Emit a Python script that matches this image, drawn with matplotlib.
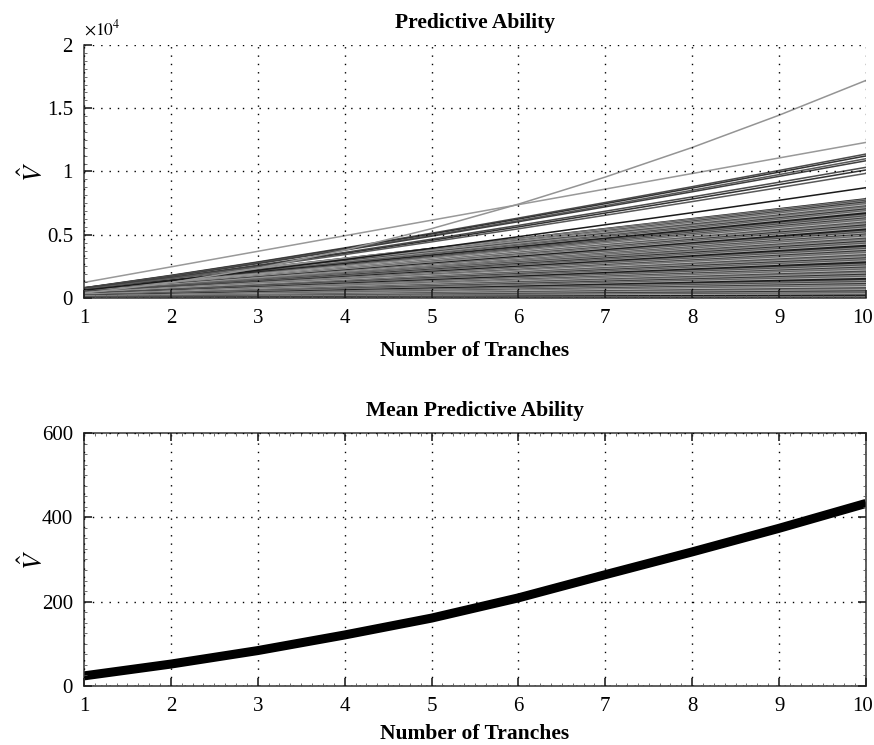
import matplotlib
matplotlib.use("Agg")
import matplotlib.pyplot as plt
from matplotlib.ticker import AutoMinorLocator
from matplotlib.transforms import ScaledTranslation

plt.rcParams['font.family'] = ['Liberation Serif', 'DejaVu Serif']
plt.rcParams['mathtext.fontset'] = 'stix'

# ---------------- data ----------------
tranches = [1, 2, 3, 4, 5, 6, 7, 8, 9, 10]

# dense band of individual series (value at 1 tranche, value at 10 tranches)
band_start = [760, 800, 720, 790, 700, 770, 690, 750, 760, 680, 720, 650, 710, 740, 640,
              690, 700, 610, 670, 600, 650, 680, 590, 620, 570, 610, 630, 540, 590, 520,
              570, 560, 500, 550, 490, 530, 470, 520, 500, 450, 490, 480, 430, 460, 410,
              450, 400, 430, 380, 420, 370, 390, 350, 380, 340, 360, 320, 350, 300, 330,
              290, 310, 280, 300, 260, 280, 240, 260, 230, 250, 210, 230, 200, 210, 180,
              190, 170, 180, 150, 160, 140, 130, 120, 125, 100, 110, 90, 95, 75, 72,
              58, 55, 42, 40, 27, 22, 12, 7]
band_end = [7820, 7760, 7690, 7610, 7570, 7480, 7420, 7330, 7250, 7190, 7080, 7010, 6930, 6850, 6790,
            6700, 6610, 6540, 6460, 6370, 6300, 6220, 6150, 6060, 5980, 5910, 5820, 5750, 5660, 5590,
            5500, 5420, 5350, 5260, 5190, 5100, 5020, 4950, 4860, 4780, 4700, 4620, 4530, 4460, 4380,
            4290, 4210, 4130, 4050, 3960, 3880, 3800, 3720, 3630, 3560, 3470, 3390, 3310, 3230, 3140,
            3070, 2980, 2900, 2820, 2740, 2650, 2580, 2490, 2410, 2330, 2250, 2160, 2090, 2000, 1920,
            1840, 1760, 1670, 1600, 1510, 1430, 1350, 1270, 1180, 1110, 1020, 940, 860, 780, 690,
            620, 530, 450, 370, 290, 200, 130, 60]

# clearly distinguishable upper series
steep_line = [385, 1210, 2350, 3780, 5480, 7420, 9560, 11900, 14450, 17200]
upper_gray = [1230, 2460, 3690, 4920, 6150, 7380, 8610, 9840, 11070, 12300]
group_1 = [805, 1790, 2850, 3960, 5120, 6320, 7550, 8800, 10080, 11380]
group_2 = [795, 1765, 2815, 3910, 5055, 6240, 7455, 8690, 9950, 11230]
group_3 = [779, 1730, 2760, 3830, 4955, 6115, 7305, 8515, 9755, 11010]
group_4 = [768, 1705, 2720, 3780, 4885, 6030, 7205, 8395, 9615, 10850]
group_5 = [731, 1625, 2590, 3600, 4650, 5740, 6860, 7990, 9150, 10330]
group_6 = [716, 1590, 2535, 3525, 4555, 5620, 6715, 7825, 8965, 10120]
group_7 = [697, 1550, 2470, 3430, 4435, 5470, 6540, 7620, 8725, 9850]
black_line = [617, 1370, 2185, 3035, 3925, 4845, 5790, 6745, 7725, 8720]

mean_values = [24, 52, 84, 121, 161, 209, 264, 318, 374, 433]

top_yticks = [0, 5000, 10000, 15000, 20000]
top_yticklabels = ['0', '0.5', '1', '1.5', '2']
bottom_yticks = [0, 200, 400, 600]

# ---------------- style ----------------
band_grays = ['0.15', '0.5', '0.3', '0.65', '0.22', '0.55', '0.4', '0.72',
              '0.28', '0.45', '0.6', '0.18', '0.52', '0.35', '0.68', '0.1']

fig = plt.figure(figsize=(8.74, 7.45), dpi=100)
ax1 = fig.add_axes([0.0961, 0.600, 0.8947, 0.3396])
ax2 = fig.add_axes([0.0961, 0.0792, 0.8947, 0.3396])

tick_fs = 15
label_fs = 15.5

def style_axes(ax):
    ax.grid(True, which='major', linestyle=(0, (1, 5)), color='black', linewidth=1.0)
    ax.set_axisbelow(False)
    ax.xaxis.set_minor_locator(AutoMinorLocator(8))
    ax.yaxis.set_minor_locator(AutoMinorLocator(8))
    ax.tick_params(which='major', direction='in', length=6, width=1.2, labelsize=tick_fs, pad=8,
                   colors='#222222', labelcolor='black')
    ax.tick_params(which='minor', direction='in', length=2.5, width=0.6, colors='#555555')
    for s in ax.spines.values():
        s.set_color('#333333')
        s.set_linewidth(1.1)

def fix_last_xlabel(ax):
    fig.canvas.draw()
    lab = ax.get_xticklabels()[-1]
    lab.set_ha('right')
    lab.set_transform(lab.get_transform() + ScaledTranslation(7 / 100, 0, fig.dpi_scale_trans))

# ---- top chart ----
for i, (s, e) in enumerate(zip(band_start, band_end)):
    ax1.plot([tranches[0], tranches[-1]], [s, e], color=band_grays[i % len(band_grays)], linewidth=1.5)

for series, col in [(group_1, '0.3'), (group_2, '0.2'), (group_3, '0.35'), (group_4, '0.25'),
                    (group_5, '0.3'), (group_6, '0.2'), (group_7, '0.35'), (black_line, '0.1'),
                    (upper_gray, '0.6'), (steep_line, '0.58')]:
    ax1.plot(tranches, series, color=col, linewidth=1.1)

style_axes(ax1)
ax1.spines['top'].set_visible(False)
ax1.spines['right'].set_visible(False)
ax1.tick_params(which='both', top=False, right=False)
ax1.set_xlim(1, 10)
ax1.set_ylim(0, 20000)
ax1.set_xticks(tranches)
ax1.set_yticks(top_yticks)
ax1.set_yticklabels(top_yticklabels)
ax1.text(0.0, 1.025, r'$\times10^{4}$', transform=ax1.transAxes, fontsize=12.5, ha='left', va='bottom')
ax1.set_title('Predictive Ability', fontsize=label_fs, fontweight='bold', pad=12)
ax1.set_xlabel('Number of Tranches', fontsize=label_fs, fontweight='bold', labelpad=9)
ax1.set_ylabel(r'$\hat{V}$', fontsize=19)
ax1.yaxis.set_label_coords(-0.046, 0.5)

# ---- bottom chart ----
ax2.plot(tranches, mean_values, color='black', linewidth=6.5, solid_capstyle='butt')
style_axes(ax2)
ax2.tick_params(which='both', top=True, right=True)
ax2.set_xlim(1, 10)
ax2.set_ylim(0, 600)
ax2.set_xticks(tranches)
ax2.set_yticks(bottom_yticks)
ax2.set_title('Mean Predictive Ability', fontsize=label_fs, fontweight='bold', pad=12)
ax2.set_xlabel('Number of Tranches', fontsize=label_fs, fontweight='bold', labelpad=6)
ax2.set_ylabel(r'$\hat{V}$', fontsize=19)
ax2.yaxis.set_label_coords(-0.046, 0.5)

fix_last_xlabel(ax1)
fix_last_xlabel(ax2)

fig.savefig('out.png', dpi=100)
